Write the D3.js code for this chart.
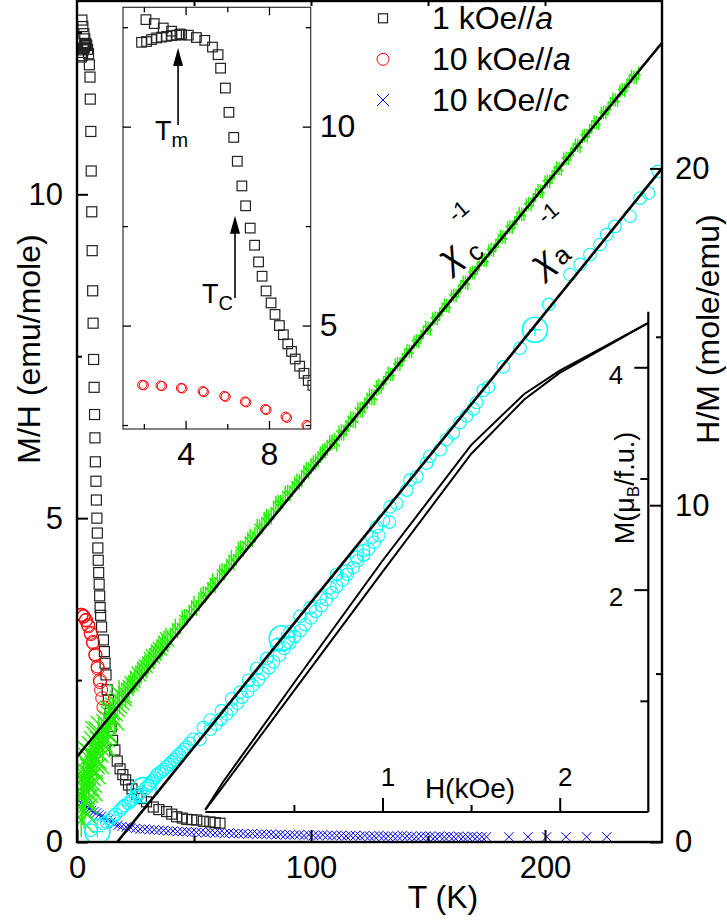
<!DOCTYPE html>
<html><head><meta charset="utf-8">
<script src="https://cdn.jsdelivr.net/npm/d3@7"></script>
<style>
body{margin:0;background:#fff}
svg{display:block}
text{font-family:"Liberation Sans",Arial,Helvetica,sans-serif;fill:#000}
</style></head><body>
<svg id="c" width="727" height="922"></svg>
<script>
// ---------------- data ----------------
// M/H (emu/mole) in 1 kOe // a, field cooled branch  [T (K), M/H]
const fc1kOe = [[2.1,12.69],[2.5,12.59],[2.93,12.48],[3.33,12.40],[3.73,12.33],[4.13,12.30],[4.52,12.24],[4.92,12.17],[5.29,12.00],[5.56,11.81],[5.68,11.47],[5.91,10.97],[6.08,10.36],[6.31,9.73],[6.48,9.13],[6.70,8.51],[6.88,8.01],[7.10,7.45],[7.31,7.02],[7.50,6.60],[7.67,6.24],[7.86,5.87],[8.10,5.57],[8.29,5.28],[8.50,5.00],[8.69,4.77],[8.90,4.54],[9.08,4.35],[9.26,4.16],[9.47,3.98],[9.68,3.80],[9.88,3.62],[10.1,3.50],[10.5,3.32],[11.3,3.12],[11.7,2.94],[12.0,2.76],[12.4,2.58],[12.9,2.35],[13.4,2.19],[14.1,1.99],[14.6,1.78],[15.2,1.57],[16.2,1.42],[17.2,1.25],[18.4,1.13],[19.6,1.04],[20.8,0.96],[22.0,0.88],[23.5,0.82],[25.5,0.74],[27.5,0.67],[29.7,0.62],[32.6,0.54],[35.0,0.50],[38.3,0.47],[40.5,0.43],[42.6,0.39],[45.0,0.37],[46.9,0.35],[49.0,0.345],[51.2,0.34],[54.0,0.32],[56.8,0.31],[59.0,0.30],[61.1,0.29]];
// 1 kOe // a, zero field cooled branch
const zfc1kOe = [[1.89,12.12],[2.13,12.14],[2.37,12.19],[2.61,12.23],[2.85,12.25],[3.09,12.27],[3.33,12.29],[3.57,12.30],[3.81,12.31]];
// 10 kOe // a
const h10kOeA = [[1.92,3.51],[2.0,3.50],[2.80,3.49],[2.87,3.48],[3.78,3.43],[3.85,3.42],[4.82,3.35],[4.88,3.33],[5.86,3.23],[5.92,3.21],[6.85,3.09],[6.91,3.07],[7.82,2.90],[7.88,2.88],[8.80,2.71],[8.86,2.68],[9.80,2.50],[9.86,2.47],[10.3,2.35],[10.8,2.22],[11.3,2.08]];
// 10 kOe // c
const h10kOeC = [[1.6,0.60],[2.5,0.58],[3.4,0.56],[4.4,0.54],[5.3,0.51],[6.3,0.49],[7.3,0.47],[8.4,0.45],[9.4,0.42],[10.5,0.40],[11.8,0.37],[13.2,0.34],[14.6,0.31],[16.1,0.28],[17.6,0.26],[19.2,0.24],
[21,0.23],[23,0.22],[25,0.21],[27,0.20],[29,0.20],[31,0.19],[33,0.19],[35,0.18],[37,0.18],[39,0.17],[41,0.17],[43,0.16],[45,0.16],[47,0.16],[49,0.15],[51,0.15],[53,0.15],[55,0.14],[57,0.15],[59,0.14],[61,0.14],[63,0.13],[65,0.14],[67,0.13],[69,0.13],[71,0.13],[73,0.12],[75,0.13],[77,0.12],[79,0.12],[81,0.12],[83,0.12],[85,0.11],[87,0.12],[89,0.11],[91,0.11],[93,0.11],[95,0.11],[97,0.10],[99,0.11],[101,0.10],[103,0.10],[105,0.11],[107,0.10],[109,0.10],[111,0.10],[113,0.10],[115,0.09],[117,0.10],[119,0.10],[121,0.09],[123,0.10],[125,0.09],[127,0.09],[129,0.10],[131,0.09],[133,0.09],[135,0.09],[137,0.09],[139,0.10],[141,0.09],[143,0.09],[145,0.08],[147,0.09],[149,0.09],[151,0.09],[153,0.08],[155,0.09],[157,0.08],[159,0.09],[161,0.08],[163,0.09],[165,0.08],[167,0.08],[169,0.09],[171,0.08],[173,0.08],[175,0.08],
[184.6,0.08],[192.7,0.08],[200.7,0.08],[209,0.08],[217.8,0.08],[226.4,0.08]];
// inverse susceptibility, H // c   [T, H/M (mole/emu)]
const invChiC = [[1.8,0.65],[2.2,1.0],[2.6,1.35],[3.0,0.9],[3.4,1.55],[3.9,1.75],[4.4,2.05],[5.0,1.85],[5.6,2.25],[6.3,2.4],[7.0,2.55],[7.8,2.75],[8.7,2.9],[9.6,3.05],[10.5,3.2],[11.5,3.35],[12.5,3.5],[13.5,3.62],[14.4,3.75],[15.4,3.88],[16.3,4.0],[17.2,4.1],[18.2,4.2],[19.2,4.32],[20.1,4.45],
[2.0,1.5],[2.8,1.9],[3.6,1.2],[4.7,2.3],[5.3,1.6],[6.0,2.6],[6.8,2.1],[8.2,2.4],[9.2,3.2],[11.0,2.9],[13.0,3.2],[14.0,3.9],[16.0,3.6],[18.0,4.4],
[21.5,4.55],[23,4.73],[24.5,4.76],[26,5.03],[27.5,5.06],[29,5.24],[30.5,5.32],[32,5.54],[33.5,5.57],[35,5.75],[36.5,5.83],[38,6.05],
[20.8,4.3],[22.2,4.62],[23.8,4.66],[25.2,4.9],[26.8,4.95],[28.2,5.17],[29.8,5.2],[31.2,5.45],[32.8,5.48],[34.2,5.68],[35.8,5.72],[37.2,5.95],[38.8,5.98],
[40,6.12],[42,6.39],[44,6.41],[46,6.68],[48,6.80],[50,7.07],[52,7.09],[54,7.36],[56,7.48],[58,7.75],[60,7.77],[62,8.04],[64,8.16],[66,8.43],[68,8.45],[70,8.72],[72,8.84],[74,9.06],[76,9.12],[78,9.34],[80,9.56],[82,9.63],[84,9.85],[86,10.07],[88,10.14],[90,10.36],[92,10.48],[94,10.70],[96,10.77],[98,11.04],[100,11.16],[102,11.28],[104,11.50],[106,11.62],[108,11.84],[110,11.91],
[112,12.13],[114,12.15],[116,12.42],[118,12.54],[120,12.81],[122,12.83],[124,13.10],[126,13.21],[128,13.48],[130,13.50],[132,13.77],[134,13.89],[136,14.16],[138,14.18],[140,14.45],[142,14.57],[144,14.84],[146,14.86],[148,15.13],[150,15.25],[152,15.52],[154,15.54],[156,15.81],[158,15.93],[160,16.20],[162,16.22],[164,16.49],[166,16.61],[168,16.88],[170,16.90],[172,17.17],[174,17.29],[176,17.55],[178,17.57],[180,17.84],[182,17.96],[184,18.23],[186,18.25],[188,18.52],[190,18.64],[192,18.91],[194,18.93],[196,19.20],[198,19.32],[200,19.59],[202,19.61],[204,19.88],[206,20.00],[208,20.27],[210,20.29],[212,20.56],[214,20.68],[216,20.95],[218,20.97],[220,21.24],[222,21.36],[224,21.63],[226,21.65],[228,21.92],[230,22.03],[232,22.30],[234,22.32],[236,22.59],[238,22.71],[240,22.83],
[41,6.26],[43,6.28],[45,6.65],[47,6.67],[49,6.94],[51,6.95],[53,7.32],[55,7.34],[57,7.61],[59,7.63],[61,8.00],[63,8.02],[65,8.29],[67,8.31],[69,8.68],[71,8.70],[73,8.97],[75,8.99],[77,9.36],[79,9.38],[81,9.65],[83,9.67],[85,10.04],[87,10.06],[89,10.33],[91,10.35],[93,10.62],[95,10.69],[97,10.96],[99,11.03],[101,11.24],[103,11.36],[105,11.58],[107,11.70],[109,11.87],
[111,11.84],[113,12.16],[115,12.28],[117,12.55],[119,12.52],[121,12.84],[123,12.96],[125,13.23],[127,13.20],[129,13.52],[131,13.64],[133,13.91],[135,13.88],[137,14.20],[139,14.32],[141,14.59],[143,14.56],[145,14.88],[147,15.00],[149,15.27],[151,15.23],[153,15.55],[155,15.67],[157,15.94],[159,15.91],[161,16.23],[163,16.35],[165,16.62],[167,16.59],[169,16.91],[171,17.03],[173,17.30],[175,17.27],[177,17.59],[179,17.71],[181,17.98],[183,17.95],[185,18.27],[187,18.39],[189,18.66],[191,18.63],[193,18.95],[195,19.07],[197,19.34],[199,19.31],[201,19.62],[203,19.74],[205,20.01],[207,19.98],[209,20.30],[211,20.42],[213,20.69],[215,20.66],[217,20.98],[219,21.10],[221,21.37],[223,21.34],[225,21.66],[227,21.78],[229,22.05],[231,22.02],[233,22.34],[235,22.46],[237,22.73],[239,22.70]];
// uncertainty bands for invChiC  [Tmin, Tmax, dT (K), dH/M]
const invChiCErr = [[0,12,5.6,0.5],[12,20,4.2,0.4],[20,40,2.6,0.32],[40,130,1.3,0.24],[130,251,0.9,0.2]];
// inverse susceptibility, H // a
const invChiA = [[6.0,0.35],[11.2,0.55],[14.1,0.65],[16.5,0.82],[18.4,0.95],[20.2,1.08],[21.9,1.15],[24.0,1.28],[26.0,1.40],[30.5,1.68],[32.3,1.82],[34.1,1.99],[36.2,2.10],[38.3,2.23],[40.5,2.38],[42.6,2.53],[44.8,2.67],[46.9,2.82],[49.7,3.05],[54.0,3.40],[56.9,3.62],[61.8,3.90],[66.1,4.25],[69.7,4.45],[73.3,4.80],[76.8,5.15],[81.1,5.45],[85.3,5.85],[91.0,6.25],[95.3,6.70],[99.6,6.95],[103.9,7.25],[108.1,7.55],[111.0,7.95],[115.2,8.05],[119.5,8.45],[122.4,8.65],[126.0,9.05],[128.0,9.35],[130.9,9.55],[133.8,9.95],[136.6,10.05],[140.9,10.45],[142.3,10.75],[145.2,10.85],[149.4,11.25],[150.8,11.45],[155.2,11.65],[157.9,11.95],[160.8,12.15],[163.7,12.46],[166.5,12.65],[169.4,12.86],[170.8,13.05],[173.6,13.41],[175.8,13.51],[182.2,14.11],[189.3,14.66],[201.5,15.96],[210.7,16.85],[215.0,17.15],[219.2,17.44],[223.5,17.74],[226.4,18.04],[229.9,18.28],[236.3,18.58],[240.6,19.12],[244.2,19.27],[248.4,19.91],
[52.5,3.05],[57.0,3.35],[59.5,3.5],[61.5,3.65],[64,3.8],[66.0,3.95],[68.5,4.12],[70.5,4.3],[73,4.48],[75.0,4.65],[77.5,4.82],[79.5,5.0],[82,5.18],[84.0,5.35],[86.5,5.55],[88.5,5.75],[91,5.92],[93.0,6.1],[95.5,6.28],[97.5,6.45],[100,6.65],[102.0,6.85],[104.5,7.02],[106.5,7.2],[109,7.4],[111.0,7.6],[113.5,7.78],[115.5,7.95],[118,8.15],[120.0,8.35],[122.5,8.52],[124.5,8.7],[127,8.9],[129.0,9.1],[133.5,9.5],
[12.6,0.6],[15.3,0.74],[19.3,1.02],[23,1.22],[25,1.34],[27.2,1.47],[29.4,1.6],[31.4,1.75],[33.2,1.9],[35.2,2.05],[37.2,2.16],[39.4,2.3],[41.6,2.45],[43.7,2.6],[45.8,2.75],[48.2,2.93]];
const invChiAMarked = [[8.7,0.31],[28.4,1.54],[87.5,6.05],[195.7,15.21]];
// Curie-Weiss fits
const fitC = [[0,2.53],[250,23.73]];
const fitA = [[17.2,0],[250,20.0]];
// M(H) loop at low T  [H (kOe), M (muB/f.u.)]
const mhUp = [[0,0.02],[0.1,0.23],[0.5,1.09],[1.0,2.16],[1.5,3.22],[1.8,3.71],[2.0,3.95],[2.2,4.13],[2.5,4.40]];
const mhDown = [[0,0.02],[0.1,0.27],[0.5,1.16],[1.0,2.26],[1.5,3.30],[1.8,3.76],[2.0,3.97],[2.2,4.14],[2.5,4.40]];
// ticks
const tMajor = [0,100,200], tMinor = [50,150], tTop = [50,100,150,200];
const mhMajor = [0,5,10], mhMinor = [2.5,7.5,12.5];
const hmMajor = [0,10,20], hmMinor = [5,15];
const insTMajor = [4,8], insTMinor = [2,6];
const insYMajor = [5,10], insYMinor = [2.5,7.5,12.5];
const hMajor = [1,2], hMinor = [0.5,1.5];
const mMajor = [2,4], mMinor = [1,3];
const legendLabels = [["1 kOe//","a"],["10 kOe//","a"],["10 kOe//","c"]];

// ---------------- drawing ----------------
const svg = d3.select("#c");
const FONT = 31;
const x = d3.scaleLinear().domain([0,250]).range([77,662]);
const yL = d3.scaleLinear().domain([0,13]).range([842,0]);
const yR = d3.scaleLinear().domain([0,25]).range([842,0]);

const defs = svg.append("defs");
defs.append("clipPath").attr("id","mainClip").append("rect").attr("x",77).attr("y",1).attr("width",585).attr("height",841);

const main = svg.append("g").attr("clip-path","url(#mainClip)");

// blue crosses (10 kOe//c)
main.append("g").selectAll("path").data(h10kOeC).join("path")
  .attr("d",d=>{const cx=x(d[0]),cy=yL(d[1]),s=4.6;return `M${cx-s},${cy-s}L${cx+s},${cy+s}M${cx-s},${cy+s}L${cx+s},${cy-s}`;})
  .attr("stroke","#0000ff").attr("stroke-width",1).attr("fill","none");

// squares
main.append("g").selectAll("rect").data(zfc1kOe.concat(fc1kOe)).join("rect")
  .attr("x",d=>x(d[0])-5).attr("y",d=>yL(d[1])-5).attr("width",10).attr("height",10)
  .attr("fill","none").attr("stroke","#222").attr("stroke-width",1.2);

// red circles
main.append("g").selectAll("circle").data(h10kOeA).join("circle")
  .attr("cx",d=>x(d[0])).attr("cy",d=>yL(d[1])).attr("r",6.5)
  .attr("fill","none").attr("stroke","#ff0000").attr("stroke-width",1);

// green inverse chi_c (vertical + diagonal error strokes)
function errOf(T){return invChiCErr.find(b=>T>=b[0]&&T<b[1]);}
main.append("g").selectAll("path").data(invChiC).join("path")
  .attr("d",d=>{const e=errOf(d[0]);const cx=x(d[0]),cy=yR(d[1]);
     const h=x(d[0]+e[2])-cx, v=yR(d[1]-e[3])-cy;
     let p=`M${cx},${cy-v}L${cx},${cy+v}M${cx-h},${cy-h}L${cx+h},${cy+h}`;
     if(d[0]<12) p+=`M${cx-h},${cy+h}L${cx+h},${cy-h}`;
     return p;})
  .attr("stroke","#22ee00").attr("stroke-width",1.4).attr("fill","none");

// cyan inverse chi_a
main.append("g").selectAll("circle").data(invChiA).join("circle")
  .attr("cx",d=>x(d[0])).attr("cy",d=>yR(d[1])).attr("r",6.3)
  .attr("fill","none").attr("stroke","#00ffff").attr("stroke-width",1.1);
const mk = main.append("g").selectAll("g").data(invChiAMarked).join("g")
  .attr("transform",d=>`translate(${x(d[0])},${yR(d[1])})`);
mk.append("circle").attr("r",12.5).attr("fill","none").attr("stroke","#00ffff").attr("stroke-width",1.6);
mk.append("path").attr("d","M-6,0L6,0M0,-6L0,6").attr("stroke","#00ffff").attr("stroke-width",1.3);

// fit lines
const lineR = d3.line().x(d=>x(d[0])).y(d=>yR(d[1]));
main.append("path").datum(fitC).attr("d",lineR).attr("stroke","#000").attr("stroke-width",2.6).attr("fill","none");
main.append("path").datum(fitA).attr("d",lineR).attr("stroke","#000").attr("stroke-width",2.6).attr("fill","none");

// ---- M(H) inset ----
const xh = d3.scaleLinear().domain([0,2.5]).range([205.3,648.3]);
const ym = d3.scaleLinear().domain([0,4.5]).range([812,311.7]);
const lineM = d3.line().x(d=>xh(d[0])).y(d=>ym(d[1]));
svg.append("path").datum(mhUp).attr("d",lineM).attr("stroke","#000").attr("stroke-width",2).attr("fill","none");
svg.append("path").datum(mhDown).attr("d",lineM).attr("stroke","#000").attr("stroke-width",2).attr("fill","none");
svg.append("line").attr("x1",xh(0)).attr("x2",xh(2.5)).attr("y1",ym(0)).attr("y2",ym(0)).attr("stroke","#000").attr("stroke-width",2.2);
svg.append("line").attr("x1",xh(2.5)).attr("x2",xh(2.5)).attr("y1",ym(0)).attr("y2",ym(4.5)).attr("stroke","#000").attr("stroke-width",2.2);

function styleAxis(g,fs){g.select(".domain").remove();g.selectAll(".tick line").attr("stroke","#000").attr("stroke-width",2);
  g.selectAll("text").attr("font-size",fs).attr("font-family","Liberation Sans, Arial, sans-serif").attr("fill","#000");}

let g;
g = svg.append("g").attr("transform",`translate(0,${ym(0)})`).call(d3.axisTop(xh).tickValues(hMajor).tickSize(14).tickPadding(12).tickFormat(d3.format("d")));
styleAxis(g,26); g.selectAll("text").attr("dx",5);
g = svg.append("g").attr("transform",`translate(0,${ym(0)})`).call(d3.axisTop(xh).tickValues(hMinor).tickSize(7).tickFormat(""));
styleAxis(g,26);
g = svg.append("g").attr("transform",`translate(${xh(2.5)},0)`).call(d3.axisLeft(ym).tickValues(mMajor).tickSize(14).tickPadding(11).tickFormat(d3.format("d")));
styleAxis(g,26); g.selectAll("text").attr("dy","0.62em");
g = svg.append("g").attr("transform",`translate(${xh(2.5)},0)`).call(d3.axisLeft(ym).tickValues(mMinor).tickSize(8).tickFormat(""));
styleAxis(g,26);
svg.append("text").attr("x",470).attr("y",798).attr("text-anchor","middle").attr("font-size",28).text("H(kOe)");
const ml = svg.append("text").attr("transform","translate(625,488) rotate(-90)").attr("text-anchor","middle").attr("dominant-baseline","central").attr("font-size",27);
ml.append("tspan").text("M(\u03bc");
ml.append("tspan").attr("font-size",17).attr("dy",8).text("B");
ml.append("tspan").attr("dy",-8).text("/f.u.)");

// ---- main frame & axes ----
svg.append("rect").attr("x",77).attr("y",1).attr("width",585).attr("height",841).attr("fill","none").attr("stroke","#000").attr("stroke-width",2.4);

g = svg.append("g").attr("transform","translate(77,0)").call(d3.axisLeft(yL).tickValues(mhMajor).tickSize(-11).tickPadding(14).tickFormat(d3.format("d")));
styleAxis(g,FONT);
g = svg.append("g").attr("transform","translate(77,0)").call(d3.axisLeft(yL).tickValues(mhMinor).tickSize(-5).tickFormat(""));
styleAxis(g,FONT);
g = svg.append("g").attr("transform","translate(0,842)").call(d3.axisBottom(x).tickValues(tMajor).tickSize(-12).tickPadding(14).tickFormat(d3.format("d")));
styleAxis(g,FONT);
g = svg.append("g").attr("transform","translate(0,842)").call(d3.axisBottom(x).tickValues(tMinor).tickSize(-6).tickFormat(""));
styleAxis(g,FONT);
g = svg.append("g").attr("transform","translate(0,1)").call(d3.axisTop(x).tickValues(tTop).tickSize(-5).tickFormat(""));
styleAxis(g,FONT);
g = svg.append("g").attr("transform","translate(662,0)").call(d3.axisRight(yR).tickValues(hmMajor).tickSize(-12).tickPadding(13).tickFormat(d3.format("d")));
styleAxis(g,FONT);
g = svg.append("g").attr("transform","translate(662,0)").call(d3.axisRight(yR).tickValues(hmMinor).tickSize(-6).tickFormat(""));
styleAxis(g,FONT);

svg.append("text").attr("x",443).attr("y",908).attr("text-anchor","middle").attr("font-size",32).text("T (K)");
svg.append("text").attr("transform","translate(29,349) rotate(-90)").attr("text-anchor","middle").attr("dominant-baseline","central").attr("font-size",32).text("M/H (emu/mole)");
svg.append("text").attr("transform","translate(708,329) rotate(-90)").attr("text-anchor","middle").attr("dominant-baseline","central").attr("font-size",32).text("H/M (mole/emu)");

// chi labels
function chiLabel(cx,cy,sub,sx,sy,px,py){
  const gg = svg.append("g");
  gg.append("text").attr("transform",`translate(${cx},${cy}) rotate(-40)`).attr("text-anchor","middle").attr("dominant-baseline","central").attr("font-size",36).attr("font-style","italic").text("\u03c7");
  gg.append("text").attr("transform",`translate(${sx},${sy}) rotate(-40)`).attr("text-anchor","middle").attr("dominant-baseline","central").attr("font-size",26).text(sub);
  gg.append("text").attr("transform",`translate(${px},${py}) rotate(-40)`).attr("text-anchor","middle").attr("dominant-baseline","central").attr("font-size",22).text("-1");
}
chiLabel(x(159),yR(17.4),"c",x(170),yR(17.53),x(163),yR(18.73));
chiLabel(x(198.5),yR(17.25),"a",x(207),yR(17.43),x(201.3),yR(18.68));

// ---- inset (low T) ----
const xi = d3.scaleLinear().domain([1,10]).range([123,310.7]);
const yi = d3.scaleLinear().domain([2.4,13]).range([429,7.3]);
defs.append("clipPath").attr("id","insClip").append("rect").attr("x",123).attr("y",7.3).attr("width",187.7).attr("height",421.7);
svg.append("rect").attr("x",123).attr("y",7.3).attr("width",187.7).attr("height",421.7).attr("fill","#fff");
const ins = svg.append("g").attr("clip-path","url(#insClip)");
ins.append("g").selectAll("rect").data(zfc1kOe.concat(fc1kOe)).join("rect")
  .attr("x",d=>xi(d[0])-4.8).attr("y",d=>yi(d[1])-4.8).attr("width",9.6).attr("height",9.6)
  .attr("fill","none").attr("stroke","#222").attr("stroke-width",1.2);
ins.append("g").selectAll("circle").data(h10kOeA).join("circle")
  .attr("cx",d=>xi(d[0])).attr("cy",d=>yi(d[1])).attr("r",4.6)
  .attr("fill","none").attr("stroke","#ff0000").attr("stroke-width",1);
svg.append("rect").attr("x",123).attr("y",7.3).attr("width",187.7).attr("height",421.7).attr("fill","none").attr("stroke","#333").attr("stroke-width",1.2);

g = svg.append("g").attr("transform","translate(0,429)").call(d3.axisBottom(xi).tickValues(insTMajor).tickSize(-8).tickPadding(13).tickFormat(d3.format("d")));
styleAxis(g,32); g.selectAll(".tick line").attr("stroke-width",1.3);
g = svg.append("g").attr("transform","translate(0,429)").call(d3.axisBottom(xi).tickValues(insTMinor).tickSize(-5).tickFormat(""));
styleAxis(g,32); g.selectAll(".tick line").attr("stroke-width",1.3);
g = svg.append("g").attr("transform","translate(0,7.3)").call(d3.axisTop(xi).tickValues(insTMajor).tickSize(-8).tickFormat(""));
styleAxis(g,32); g.selectAll(".tick line").attr("stroke-width",1.3);
g = svg.append("g").attr("transform","translate(0,7.3)").call(d3.axisTop(xi).tickValues(insTMinor).tickSize(-5).tickFormat(""));
styleAxis(g,32); g.selectAll(".tick line").attr("stroke-width",1.3);
g = svg.append("g").attr("transform","translate(310.7,0)").call(d3.axisRight(yi).tickValues(insYMajor).tickSize(-8).tickPadding(9).tickFormat(d3.format("d")));
styleAxis(g,32); g.selectAll(".tick line").attr("stroke-width",1.3);
g = svg.append("g").attr("transform","translate(310.7,0)").call(d3.axisRight(yi).tickValues(insYMinor).tickSize(-5).tickFormat(""));
styleAxis(g,32); g.selectAll(".tick line").attr("stroke-width",1.3);
g = svg.append("g").attr("transform","translate(123,0)").call(d3.axisLeft(yi).tickValues(insYMajor).tickSize(-8).tickFormat(""));
styleAxis(g,32); g.selectAll(".tick line").attr("stroke-width",1.3);
g = svg.append("g").attr("transform","translate(123,0)").call(d3.axisLeft(yi).tickValues(insYMinor).tickSize(-5).tickFormat(""));
styleAxis(g,32); g.selectAll(".tick line").attr("stroke-width",1.3);

// arrows Tm, Tc
function arrow(T,v0,v1){
  const ax=xi(T), y0=yi(v0), y1=yi(v1);
  svg.append("line").attr("x1",ax).attr("x2",ax).attr("y1",y0).attr("y2",y1+16).attr("stroke","#000").attr("stroke-width",1.6);
  svg.append("path").attr("d",`M${ax},${y1}L${ax-5},${y1+18}L${ax+5},${y1+18}Z`).attr("fill","#000");
  return [ax,y0];
}
let a = arrow(3.64,10.04,11.98);
let t = svg.append("text").attr("x",a[0]-23).attr("y",a[1]+15).attr("font-size",27);
t.append("tspan").text("T"); t.append("tspan").attr("font-size",20).attr("dy",7).text("m");
a = arrow(6.37,5.69,7.76);
t = svg.append("text").attr("x",a[0]-33).attr("y",a[1]+5).attr("font-size",27);
t.append("tspan").text("T"); t.append("tspan").attr("font-size",20).attr("dy",7).text("C");

// ---- legend ----
const lg = svg.append("g");
const ly = [18.3,59.3,100];
lg.append("rect").attr("x",383-4.5).attr("y",ly[0]-4.5).attr("width",9).attr("height",9).attr("fill","none").attr("stroke","#222").attr("stroke-width",1.2);
lg.append("circle").attr("cx",383).attr("cy",ly[1]).attr("r",6).attr("fill","none").attr("stroke","#ff0000").attr("stroke-width",1);
lg.append("path").attr("d",`M${383-6},${ly[2]-6}L${383+6},${ly[2]+6}M${383-6},${ly[2]+6}L${383+6},${ly[2]-6}`).attr("stroke","#0000ff").attr("stroke-width",1);
legendLabels.forEach((l,i)=>{
  const tt = lg.append("text").attr("x",432).attr("y",ly[i]+11).attr("font-size",32);
  tt.append("tspan").text(l[0]); tt.append("tspan").attr("font-style","italic").text(l[1]);
});
</script>
</body></html>
